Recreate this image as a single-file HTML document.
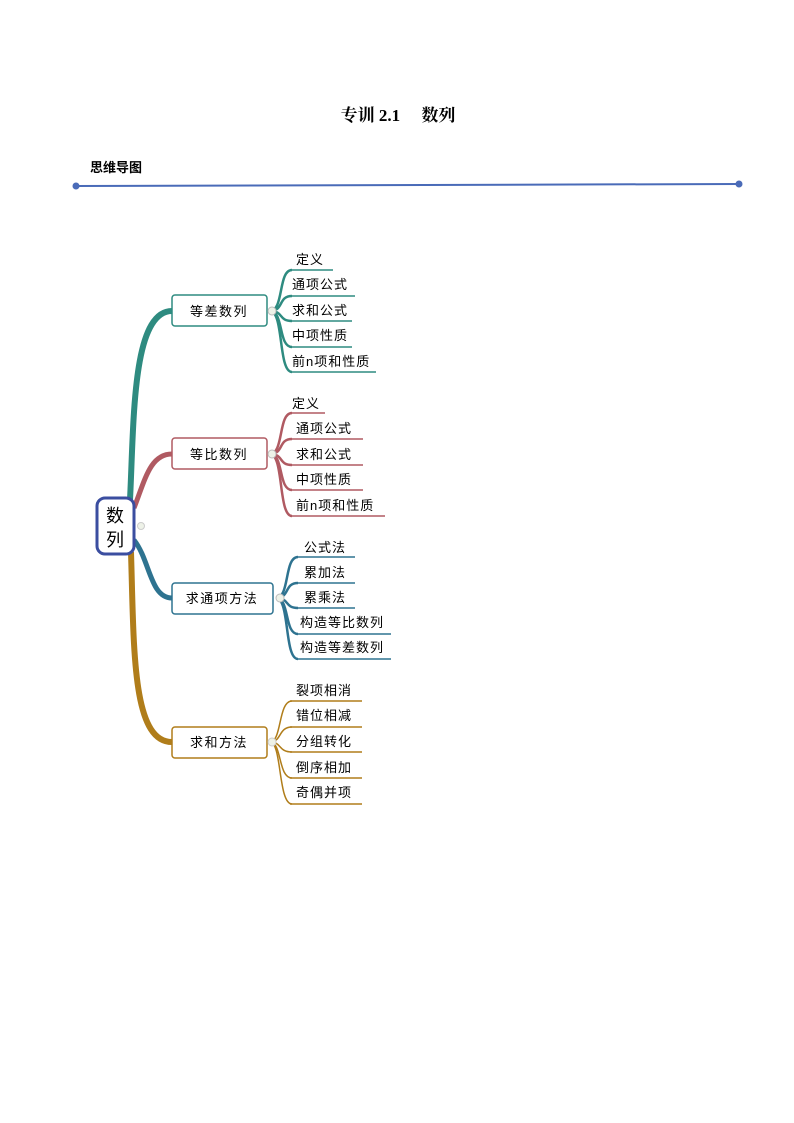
<!DOCTYPE html>
<html><head><meta charset="utf-8"><style>
body{margin:0;background:#fff;}
svg{display:block}
text{font-family:"Liberation Sans","Noto Sans CJK SC",sans-serif;}
</style></head><body>
<svg width="794" height="1123" viewBox="0 0 794 1123" xmlns="http://www.w3.org/2000/svg">
<text x="398" y="121" text-anchor="middle" font-size="17" font-weight="bold" style="font-family:'Liberation Serif','Noto Serif CJK SC',serif">专训 2.1　 数列</text>
<text x="90" y="172" font-size="13" font-weight="bold">思维导图</text>
<line x1="76" y1="186" x2="739" y2="184" stroke="#4a6bb8" stroke-width="2"/>
<circle cx="76" cy="186" r="3.5" fill="#4a6bb8"/><circle cx="739" cy="184" r="3.5" fill="#4a6bb8"/>

<path d="M130 500 C134 420 132 311 172 311" fill="none" stroke="#2e8b80" stroke-width="6"/>
<path d="M134 508 C145 480 150 454 172 454" fill="none" stroke="#b05a62" stroke-width="5"/>
<path d="M134 540 C150 560 150 598 172 598" fill="none" stroke="#2e7390" stroke-width="5"/>
<path d="M131 552 C134 650 132 742 172 742" fill="none" stroke="#b07d1a" stroke-width="6"/>

<rect x="97" y="498" width="37" height="56" rx="8" fill="#fff" stroke="#3b4ea0" stroke-width="3"/>
<text x="115" y="522" text-anchor="middle" font-size="18">数</text>
<text x="115" y="546" text-anchor="middle" font-size="18">列</text>
<circle cx="141" cy="526" r="3.5" fill="#eef2e8" stroke="#ccc"/>

<g stroke="#2e8b80" fill="none" stroke-width="2.5">
<path d="M270 311 C284 311 278 270 292 270"/><path d="M270 311 C284 311 278 296 292 296"/><path d="M270 311 C284 311 278 321 292 321"/><path d="M270 311 C284 311 278 347 292 347"/><path d="M270 311 C284 311 278 372 292 372"/>
</g>
<g stroke="#2e8b80" stroke-width="1.5">
<line x1="290" y1="270" x2="333" y2="270"/><line x1="290" y1="296" x2="355" y2="296"/><line x1="290" y1="321" x2="352" y2="321"/><line x1="290" y1="347" x2="352" y2="347"/><line x1="290" y1="372" x2="376" y2="372"/>
</g>
<rect x="172" y="295" width="95" height="31" rx="3" fill="#fff" stroke="#2e8b80" stroke-width="1.5"/>
<text x="219" y="316" text-anchor="middle" font-size="13" letter-spacing="1.5">等差数列</text>
<circle cx="272" cy="311" r="4" fill="#eef2e8" stroke="#bbb"/>
<g font-size="13" letter-spacing="1">
<text x="296" y="264">定义</text><text x="292" y="289">通项公式</text><text x="292" y="315">求和公式</text><text x="292" y="340">中项性质</text><text x="292" y="366">前n项和性质</text>
</g>

<g stroke="#b05a62" fill="none" stroke-width="2.5">
<path d="M270 454 C284 454 278 413 292 413"/><path d="M270 454 C284 454 278 439 292 439"/><path d="M270 454 C284 454 278 465 292 465"/><path d="M270 454 C284 454 278 490 292 490"/><path d="M270 454 C284 454 278 516 292 516"/>
</g>
<g stroke="#b05a62" stroke-width="1.5">
<line x1="290" y1="413" x2="325" y2="413"/><line x1="290" y1="439" x2="363" y2="439"/><line x1="290" y1="465" x2="363" y2="465"/><line x1="290" y1="490" x2="363" y2="490"/><line x1="290" y1="516" x2="385" y2="516"/>
</g>
<rect x="172" y="438" width="95" height="31" rx="3" fill="#fff" stroke="#b05a62" stroke-width="1.5"/>
<text x="219" y="459" text-anchor="middle" font-size="13" letter-spacing="1.5">等比数列</text>
<circle cx="272" cy="454" r="4" fill="#eef2e8" stroke="#bbb"/>
<g font-size="13" letter-spacing="1">
<text x="292" y="408">定义</text><text x="296" y="433">通项公式</text><text x="296" y="459">求和公式</text><text x="296" y="484">中项性质</text><text x="296" y="510">前n项和性质</text>
</g>

<g stroke="#2e7390" fill="none" stroke-width="2.5">
<path d="M276 598 C290 598 284 557 298 557"/><path d="M276 598 C290 598 284 583 298 583"/><path d="M276 598 C290 598 284 608 298 608"/><path d="M276 598 C290 598 284 634 298 634"/><path d="M276 598 C290 598 284 659 298 659"/>
</g>
<g stroke="#2e7390" stroke-width="1.5">
<line x1="296" y1="557" x2="355" y2="557"/><line x1="296" y1="583" x2="355" y2="583"/><line x1="296" y1="608" x2="355" y2="608"/><line x1="296" y1="634" x2="391" y2="634"/><line x1="296" y1="659" x2="391" y2="659"/>
</g>
<rect x="172" y="583" width="101" height="31" rx="3" fill="#fff" stroke="#2e7390" stroke-width="1.5"/>
<text x="222" y="603" text-anchor="middle" font-size="13" letter-spacing="1.5">求通项方法</text>
<circle cx="280" cy="598" r="4" fill="#eef2e8" stroke="#bbb"/>
<g font-size="13" letter-spacing="1">
<text x="304" y="552">公式法</text><text x="304" y="577">累加法</text><text x="304" y="602">累乘法</text><text x="300" y="627">构造等比数列</text><text x="300" y="652">构造等差数列</text>
</g>

<g stroke="#b07d1a" fill="none" stroke-width="1.5">
<path d="M270 742 C282 742 278 701 292 701"/><path d="M270 742 C282 742 278 727 292 727"/><path d="M270 742 C282 742 278 752 292 752"/><path d="M270 742 C282 742 278 778 292 778"/><path d="M270 742 C282 742 278 804 292 804"/>
</g>
<g stroke="#b07d1a" stroke-width="1.5">
<line x1="290" y1="701" x2="362" y2="701"/><line x1="290" y1="727" x2="362" y2="727"/><line x1="290" y1="752" x2="362" y2="752"/><line x1="290" y1="778" x2="362" y2="778"/><line x1="290" y1="804" x2="362" y2="804"/>
</g>
<rect x="172" y="727" width="95" height="31" rx="3" fill="#fff" stroke="#b07d1a" stroke-width="1.5"/>
<text x="219" y="747" text-anchor="middle" font-size="13" letter-spacing="1.5">求和方法</text>
<circle cx="272" cy="742" r="4" fill="#eef2e8" stroke="#ccc"/>
<g font-size="13" letter-spacing="1">
<text x="296" y="695">裂项相消</text><text x="296" y="720">错位相减</text><text x="296" y="746">分组转化</text><text x="296" y="772">倒序相加</text><text x="296" y="797">奇偶并项</text>
</g>
</svg>
</body></html>
